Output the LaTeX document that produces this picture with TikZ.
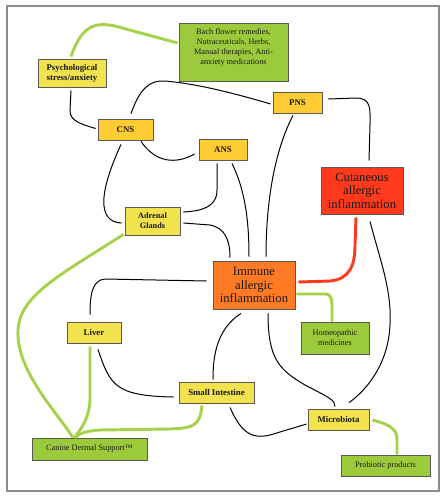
\documentclass[tikz,border=0pt]{standalone}
\usepackage{fontspec}
\setmainfont{Liberation Serif}
\definecolor{yel}{HTML}{F2E24E}
\definecolor{gold}{HTML}{FFCC33}
\definecolor{grn}{HTML}{9BCB3B}
\definecolor{redf}{HTML}{FF3A1C}
\definecolor{orng}{HTML}{FF7A24}
\definecolor{lgrn}{HTML}{A5D24A}
\begin{document}
\begin{tikzpicture}[x=0.75pt,y=-0.75pt,
  box/.style={draw=black!65, line width=0.6pt, inner sep=1pt, align=center, text=black!90},
  lbl/.style={box, font=\fontsize{6.6}{7.5}\selectfont\bfseries},
  sm/.style={box, font=\fontsize{6.2}{7.5}\selectfont},
  big/.style={box, font=\fontsize{9.5}{10.2}\selectfont},
  blk/.style={draw=black, line width=0.75pt},
  gline/.style={draw=lgrn, line width=2.2pt},
  rline/.style={draw=redf, line width=2.2pt}]
\useasboundingbox (0,0) rectangle (447,497);
\draw[draw=black!45, line width=1.1pt] (7,6) rectangle (439,491);

\node[sm, fill=grn, minimum width=81.75pt, minimum height=43.5pt] (bach) at (233.5,52) {};
\node[font=\fontsize{6.2}{7.5}\selectfont, align=center, text=black!90, inner sep=0pt] at ([shift={(0,-5)}]bach.center) {Bach flower remedies,\\Nutraceuticals, Herbs,\\Manual therapies, Anti-\\anxiety medications};
\node[lbl, fill=yel, minimum width=51pt, minimum height=21pt] (psych) at (72,73) {Psychological\\stress/anxiety};
\node[lbl, fill=gold, minimum width=41.25pt, minimum height=15.75pt] (cns) at (125.5,129.5) {CNS};
\node[lbl, fill=gold, minimum width=36.75pt, minimum height=15.75pt] (pns) at (297.5,102.5) {PNS};
\node[lbl, fill=gold, minimum width=36pt, minimum height=15.75pt] (ans) at (223,149.5) {ANS};
\node[big, fill=redf, minimum width=61.5pt, minimum height=35.25pt] (cut) at (362,190.5) {Cutaneous\\allergic\\inflammation};
\node[lbl, fill=yel, minimum width=41.25pt, minimum height=21pt, font=\fontsize{6.2}{7.5}\selectfont\bfseries] (adr) at (152.5,221) {Adrenal\\Glands};
\node[big, fill=orng, minimum width=61.5pt, minimum height=36pt] (imm) at (254,285) {Immune\\allergic\\inflammation};
\node[sm, fill=grn, minimum width=51pt, minimum height=24pt] (hom) at (335,338) {Homeopathic\\medicines};
\node[lbl, fill=yel, minimum width=40.5pt, minimum height=15.75pt] (liver) at (94,332.5) {Liver};
\node[lbl, fill=yel, minimum width=56.25pt, minimum height=15.75pt] (si) at (216.5,392.5) {Small Intestine};
\node[lbl, fill=yel, minimum width=45.75pt, minimum height=15.75pt] (mic) at (338.5,419.5) {Microbiota};
\node[sm, fill=grn, minimum width=86.25pt, minimum height=16.5pt] (can) at (89.5,449) {Canine Dermal Support™};
\node[sm, fill=grn, minimum width=66.75pt, minimum height=15.75pt] (pro) at (385.5,465.5) {Probiotic products};

% black connectors
\draw[blk] ([shift={(-1,3)}]psych.south) -- (70,110) .. controls (69,122) and (85,125) .. ([shift={(-2,-1)}]cns.west);
\draw[blk] ([shift={(5.5,-5)}]cns.north) .. controls (140,88) and (150,80) .. (165,81) .. controls (200,84) and (240,95) .. ([shift={(-2,1.5)}]pns.west);
\draw[blk] ([shift={(6,-3.5)}]pns.east) -- (356,98) .. controls (372,98) and (370,110) .. (370,125) -- ([shift={(7,-6)}]cut.north);
\draw[blk] ([shift={(-4.5,2)}]pns.south) .. controls (275,150) and (266,200) .. ([shift={(12,-4)}]imm.north);
\draw[blk] ([shift={(-4.5,4)}]cns.south) .. controls (100,190) and (96,222) .. ([shift={(-3,2)}]adr.west);
\draw[blk] ([shift={(15.5,1)}]cns.south) .. controls (155,162) and (175,165) .. ([shift={(-4,4.5)}]ans.west);
\draw[blk] ([shift={(-6,3)}]ans.south) -- (217,190) .. controls (217,208) and (200,211) .. ([shift={(3,-9)}]adr.east);
\draw[blk] ([shift={(9,3)}]ans.south) .. controls (245,190) and (249,220) .. ([shift={(-5,-4)}]imm.north);
\draw[blk] ([shift={(3,2)}]adr.east) -- (210,225) .. controls (225,228) and (230,240) .. ([shift={(-24,-3)}]imm.north);
\draw[blk] ([shift={(-6,-4)}]imm.west) -- (105,279) .. controls (92,280) and (90,295) .. ([shift={(-4,-7)}]liver.north);
\draw[blk] ([shift={(-13,4)}]imm.south) .. controls (215,330) and (213,360) .. ([shift={(-3.5,-2)}]si.north);
\draw[blk] ([shift={(14,4)}]imm.south) .. controls (268,360) and (280,370) .. (305,385) .. controls (330,398) and (335,400) .. ([shift={(-3.5,-2)}]mic.north);
\draw[blk] ([shift={(8,7)}]cut.south) .. controls (380,260) and (392,290) .. (390,325) .. controls (388,370) and (360,395) .. ([shift={(10.5,-6)}]mic.north);
\draw[blk] ([shift={(4,6)}]liver.south) .. controls (110,385) and (115,396) .. ([shift={(-5,4.5)}]si.west);
\draw[blk] ([shift={(13.5,4)}]si.south) .. controls (240,430) and (250,440) .. (270,435) -- ([shift={(-1,4.5)}]mic.west);

% green connectors
\draw[gline] ([shift={(-1,-2)}]psych.north) .. controls (82,25) and (95,22) .. (115,26) -- ([shift={(-1,-9)}]bach.west);
\draw[gline] ([shift={(-1,-1)}]adr.south west) .. controls (60,275) and (20,295) .. (18,330) .. controls (16,370) and (55,410) .. ([shift={(-16.5,0)}]can.north);
\draw[gline] ([shift={(-4,3)}]liver.south) -- (90,400) .. controls (89,420) and (80,430) .. ([shift={(-15,0)}]can.north);
\draw[gline] ([shift={(-14.5,2)}]si.south) .. controls (200,425) and (195,428) .. (170,429) -- (100,430) .. controls (85,431) and (78,434) .. ([shift={(-14,0)}]can.north);
\draw[gline] ([shift={(1,9)}]imm.east) -- (325,294) .. controls (332,294) and (332,300) .. (332,310) -- ([shift={(-3,0)}]hom.north);
\draw[gline] ([shift={(3,0.5)}]mic.east) .. controls (392,425) and (397,430) .. (397,440) -- ([shift={(11.5,0)}]pro.north);
\draw[rline] ([shift={(3,-3)}]imm.east) -- (330,281) .. controls (350,279) and (355,265) .. (355,245) -- ([shift={(-6,3)}]cut.south);
\end{tikzpicture}
\end{document}
